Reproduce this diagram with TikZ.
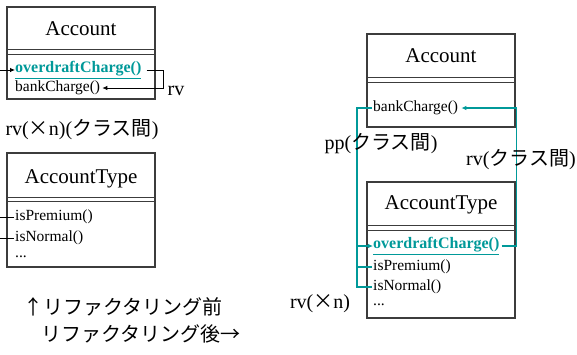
\documentclass[tikz,border=0pt]{standalone}
\usepackage{fontspec}
\setmainfont{Liberation Serif}
\newfontfamily\umlfont{Liberation Serif}
\newfontfamily\jp{Noto Sans CJK JP}
\usepackage{tikz}
\usetikzlibrary{arrows.meta, positioning}
\definecolor{tealline}{RGB}{0, 153, 153}
\definecolor{boxline}{RGB}{60, 60, 60}

\begin{document}
\begin{tikzpicture}[x=1pt, y=-1pt,
    classbox/.style={draw=boxline, line width=1.1pt, minimum width=148pt, 
                     inner sep=0pt},
    classname/.style={font=\umlfont\fontsize{21}{25}\selectfont},
    method/.style={anchor=west, inner sep=0pt, font=\umlfont\fontsize{15.5}{18}\selectfont},
    moved/.style={method, text=tealline, font=\umlfont\fontsize{16}{19}\selectfont\bfseries},
    note/.style={font=\umlfont\fontsize{20}{24}\selectfont},
    call/.style={line width=0.8pt},
    tcall/.style={draw=tealline, line width=1.6pt},
    arr/.style={-{Latex[length=5pt, width=4.5pt]}}
]
    \useasboundingbox (0,0) rectangle (577,354);

    % before: Account
    \node[classbox, minimum height=92pt] (accL) at (81,53) {};
    \node[classname] (accLname) at (81,29) {Account};
    \draw[boxline, line width=1.1pt] ([yshift=-43pt]accL.north west) -- ([yshift=-43pt]accL.north east);
    \draw[boxline, line width=1.1pt] ([yshift=-48pt]accL.north west) -- ([yshift=-48pt]accL.north east);
    \node[moved] (odcL) at (15,70) {\underline{overdraftCharge()}};
    \node[method] (bcL) at (15,88) {bankCharge()};

    % before: AccountType
    \node[classbox, minimum height=114pt] (typL) at (81,210) {};
    \node[classname] (typLname) at (81,179) {AccountType};
    \draw[boxline, line width=1.1pt] ([yshift=-45pt]typL.north west) -- ([yshift=-45pt]typL.north east);
    \draw[boxline, line width=1.1pt] ([yshift=-49pt]typL.north west) -- ([yshift=-49pt]typL.north east);
    \node[method] (ipL) at (15,217) {isPremium()};
    \node[method] (inL) at (15,238) {isNormal()};
    \node[method] (moreL) at (15,257) {...};

    % before: calls
    \coordinate (odcIn) at (0,70);
    \coordinate (ipIn) at (0,217);
    \coordinate (inIn) at (0,238);
    \draw[call, arr] (odcIn) -- (odcL.west);
    \draw[call, arr] ([xshift=5pt]odcL.east) -- ++(17,0) |- ([xshift=2pt]bcL.east);
    \draw[call] (ipIn) -- ([xshift=-1pt]ipL.west);
    \draw[call] (inIn) -- ([xshift=-1pt]inL.west);
    \node[note] (rvL) at (176,91) {rv};
    \node[note, anchor=west] (rvnL) at (2,130) {rv({\jp ×}n)({\jp クラス間})};

    % after: Account
    \node[classbox, minimum height=93pt] (accR) at (441,80.5) {};
    \node[classname] (accRname) at (441,56) {Account};
    \draw[boxline, line width=1.1pt] ([yshift=-44pt]accR.north west) -- ([yshift=-44pt]accR.north east);
    \draw[boxline, line width=1.1pt] ([yshift=-49pt]accR.north west) -- ([yshift=-49pt]accR.north east);
    \node[method] (bcR) at (373,108) {bankCharge()};

    % after: AccountType
    \node[classbox, minimum height=136pt] (typR) at (441,250) {};
    \node[classname] (typRname) at (441,205) {AccountType};
    \draw[boxline, line width=1.1pt] ([yshift=-44pt]typR.north west) -- ([yshift=-44pt]typR.north east);
    \draw[boxline, line width=1.1pt] ([yshift=-49pt]typR.north west) -- ([yshift=-49pt]typR.north east);
    \node[moved] (odcR) at (373,246) {\underline{overdraftCharge()}};
    \node[method] (ipR) at (373,267) {isPremium()};
    \node[method] (inR) at (373,287) {isNormal()};
    \node[method] (moreR) at (373,305) {...};

    % after: calls
    \coordinate (ppx) at (357,0);
    \draw[tcall, arr] ([xshift=2pt]odcR.east) -- ++(15,0) |- ([xshift=3pt]bcR.east);
    \draw[tcall] ([xshift=-1pt]bcR.west) -| (inR.west -| ppx) -- ([xshift=-1pt]inR.west);
    \draw[tcall] (ipR.west -| ppx) -- ([xshift=-1pt]ipR.west);
    \draw[tcall, arr] (odcR.west -| ppx) -- (odcR.west);
    \node[note] (ppR) at (381,144) {pp({\jp クラス間})};
    \node[note] (rvR) at (521,160) {rv({\jp クラス間})};
    \node[note] (rvnR) at (320,304) {rv({\jp ×}n)};

    % captions
    \node[note, anchor=west, font=\jp\fontsize{20}{24}\selectfont] (before) at (20,307) {↑リファクタリング前};
    \node[note, anchor=west, font=\jp\fontsize{20}{24}\selectfont] (after) at (38,334) {リファクタリング後→};
\end{tikzpicture}
\end{document}
